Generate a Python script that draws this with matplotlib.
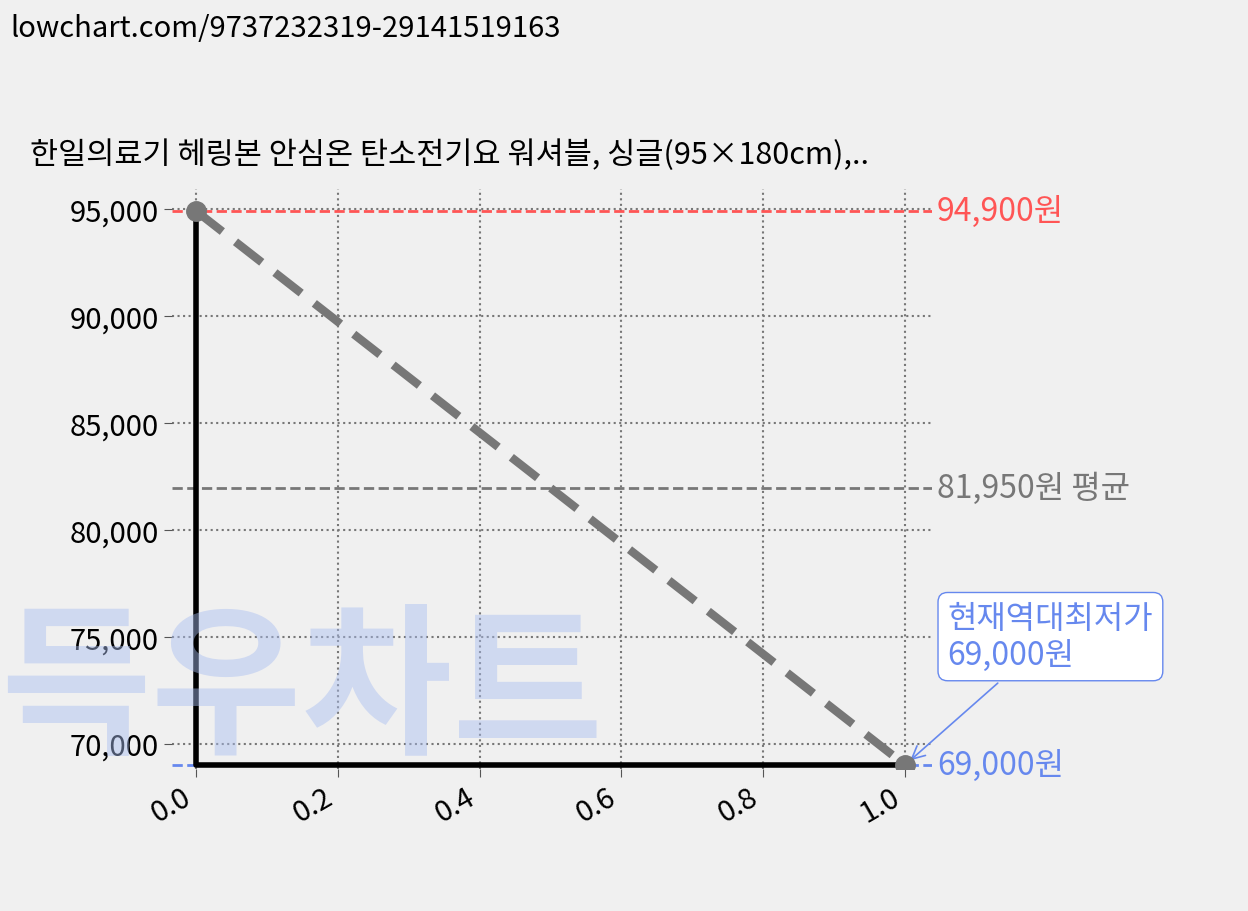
import matplotlib
matplotlib.use("Agg")
import matplotlib.pyplot as plt

plt.rcParams['font.family'] = ['Noto Sans CJK KR', 'DejaVu Sans']

x = [0.0, 1.0]
prices = [94900, 69000]
max_p, min_p, avg_p = 94900, 69000, 81950
xticks = [0.0, 0.2, 0.4, 0.6, 0.8, 1.0]
yticks = [70000, 75000, 80000, 85000, 90000, 95000]
title = "한일의료기 헤링본 안심온 탄소전기요 워셔블, 싱글(95×180cm),.."

fig = plt.figure(figsize=(12.48, 9.12), dpi=100, facecolor='#f0f0f0')
ax = fig.add_axes([172/1248, 1-770/912, (932-172)/1248, (770-190)/912])
ax.set_facecolor('#f0f0f0')
ax.set_xlim(-0.034, 1.038)
ax.set_ylim(68810, 95930)
for s in ax.spines.values():
    s.set_visible(False)
ax.grid(True, linestyle=':', color='#777777', linewidth=1.5)
ax.set_xticks(xticks)
ax.set_xticklabels([f"{t:.1f}" for t in xticks], rotation=30, ha='right', fontsize=21)
ax.set_yticks(yticks)
ax.set_yticklabels([f"{t:,}" for t in yticks], fontsize=21)
ax.tick_params(length=6, color='#555555')

fig.text(0.008, 0.985, "lowchart.com/9737232319-29141519163", fontsize=21, va='top')
fig.text(30/1248, 1-155/912, title, fontsize=22, va='center')

fig.text(0.0, 1-775/912, "득우차트", fontsize=118, fontweight='bold', color='#a8bdf0',
         alpha=0.45, va='bottom', zorder=0)

ax.plot([x[0], x[0], x[1]], [prices[0], prices[1], prices[1]], color='black', linewidth=4, zorder=3)
ax.plot(x, prices, color='#777777', linestyle=(0, (4, 2)), linewidth=6, marker='o', markersize=14, zorder=4)

ax.axhline(max_p, color='#ff5555', linestyle='--', linewidth=2)
ax.axhline(avg_p, color='#777777', linestyle='--', linewidth=2)
ax.axhline(min_p, color='#6688ee', linestyle='--', linewidth=2)
ax.text(1.045, max_p, f"{max_p:,}원", color='#ff5555', fontsize=23, va='center')
ax.text(1.045, avg_p, f"{avg_p:,}원 평균", color='#777777', fontsize=23, va='center')
ax.text(1.045, min_p, f"{min_p:,}원", color='#6688ee', fontsize=23, va='center')

ax.annotate(f"현재역대최저가\n{min_p:,}원", xy=(1.0, min_p), xytext=(1.06, 75000),
            color='#6688ee', fontsize=23, va='center', ha='left',
            bbox=dict(boxstyle='round,pad=0.3', fc='white', ec='#6688ee'),
            arrowprops=dict(arrowstyle='->', color='#6688ee', lw=1.2, shrinkB=5),
            annotation_clip=False)

fig.savefig("out.png", dpi=100, facecolor=fig.get_facecolor())
